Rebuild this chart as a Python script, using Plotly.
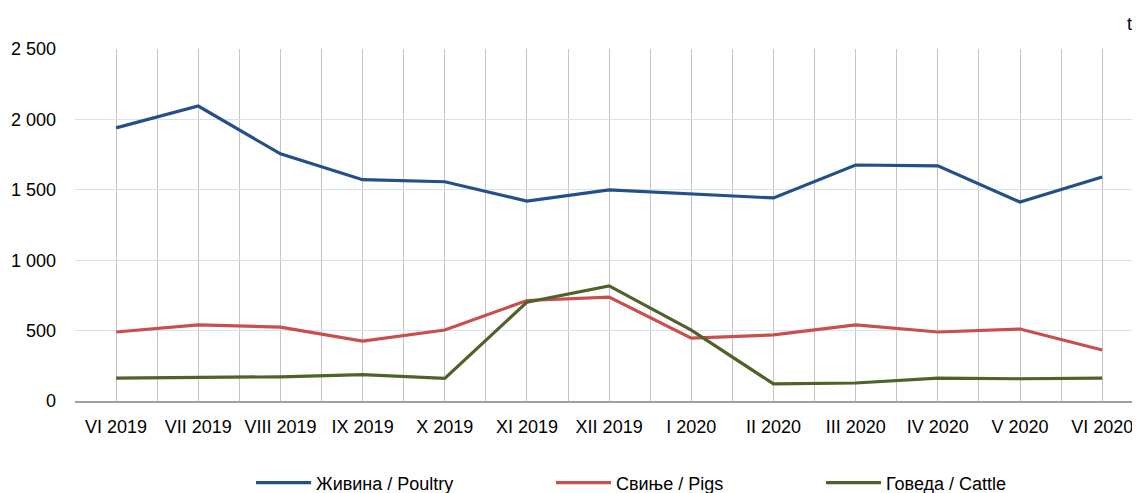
import plotly.graph_objects as go

categories = ["VI 2019", "VII 2019", "VIII 2019", "IX 2019", "X 2019", "XI 2019", "XII 2019",
              "I 2020", "II 2020", "III 2020", "IV 2020", "V 2020", "VI 2020"]
poultry = [1940, 2095, 1755, 1572, 1557, 1420, 1499, 1470, 1442, 1676, 1670, 1413, 1591]
pigs = [490, 540, 525, 426, 504, 714, 738, 447, 469, 540, 490, 511, 362]
cattle = [163, 170, 172, 187, 160, 702, 818, 504, 121, 128, 163, 158, 163]
y_ticks = [0, 500, 1000, 1500, 2000, 2500]
y_ticktext = ["0", "500", "1 000", "1 500", "2 000", "2 500"]

FONT = "Liberation Sans, Arial"
FS = 18

series = [
    ("Живина / Poultry", poultry, "#23508a", "legend", 0.1653),
    ("Свиње / Pigs", pigs, "#c84f4c", "legend2", 0.4469),
    ("Говеда / Cattle", cattle, "#4f6228", "legend3", 0.7005),
]

xs = list(range(len(categories)))
fig = go.Figure()
legends = {}
for name, vals, col, lg, lx in series:
    fig.add_trace(go.Scatter(x=xs, y=vals, mode="lines", name=name, legend=lg,
                             line=dict(color=col, width=3.2)))
    legends[lg] = dict(orientation="h", x=lx, xanchor="left", y=-0.233, yanchor="middle",
                       font=dict(size=FS, family=FONT), itemwidth=55,
                       bgcolor="rgba(0,0,0,0)", borderwidth=0)

fig.update_layout(
    width=1132, height=485,
    margin=dict(l=67, r=0, t=41, b=92, autoexpand=False),
    paper_bgcolor="white", plot_bgcolor="white",
    font=dict(family=FONT, size=FS, color="#000"),
    showlegend=True,
    xaxis=dict(
        range=[-0.5, 12.46], tickmode="array", tickvals=xs, ticktext=categories,
        showgrid=True, gridcolor="#c4c4c4", gridwidth=1,
        minor=dict(tickmode="array", tickvals=[i + 0.5 for i in range(-1, 13)],
                   showgrid=True, gridcolor="#c4c4c4", gridwidth=1),
        showline=True, linecolor="#a0a0a0", linewidth=2,
        ticks="", zeroline=False, tickfont=dict(size=FS, family=FONT),
        tickangle=0, ticklabelstandoff=8,
    ),
    yaxis=dict(
        range=[0, 2500], tickmode="array", tickvals=y_ticks, ticktext=y_ticktext,
        showgrid=True, gridcolor="#d6e2f0", gridwidth=1, zeroline=False,
        ticks="", tickfont=dict(size=FS, family=FONT), ticklabelstandoff=18,
    ),
    annotations=[dict(text="t", xref="paper", yref="paper", x=0.9906, y=1.071,
                      xanchor="center", yanchor="middle", showarrow=False,
                      font=dict(size=FS, family=FONT))],
    **legends,
)

fig.write_html("out.html")
